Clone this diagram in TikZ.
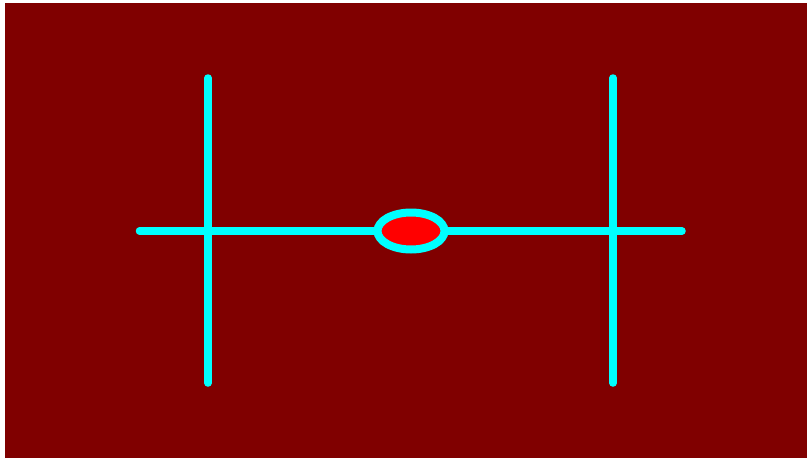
\documentclass[tikz,border=0pt]{standalone}
\usepackage{xcolor}
\usepackage{tikz}
\usetikzlibrary{shapes.geometric, positioning, calc}
\definecolor{BgMaroon}{RGB}{128, 0, 0}
\definecolor{WireCyan}{RGB}{0, 255, 255}
\definecolor{CoreRed}{RGB}{255, 0, 0}

\tikzset{
  wire/.style={draw=WireCyan, line width=7.5pt, line cap=round},
  core/.style={ellipse, draw=WireCyan, fill=CoreRed, line width=8pt,
    minimum width=67pt, minimum height=37pt, inner sep=0pt}
}

\begin{document}
\begin{tikzpicture}[x=1pt, y=-1pt]
    \useasboundingbox (0,0) rectangle (807,458);
    \fill[BgMaroon] (5,3) rectangle (807,458);
    % end points of the wires
    \coordinate (wireW) at (139.5,231);
    \coordinate (wireE) at (682,231);
    \coordinate (postAN) at (208,78);
    \coordinate (postAS) at (208,383);
    \coordinate (postBN) at (613,78);
    \coordinate (postBS) at (613,383);
    \draw[wire] (postAN) -- (postAS);
    \draw[wire] (postBN) -- (postBS);
    \draw[wire] (wireW) -- (wireE);
    \node[core] (hub) at (411,231) {};
  \end{tikzpicture}
\end{document}
